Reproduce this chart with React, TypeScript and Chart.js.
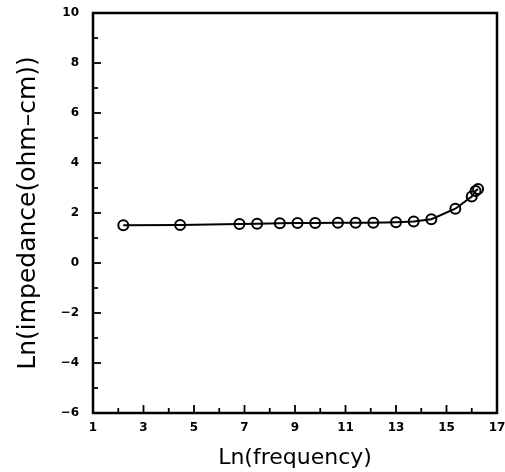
import React, { useEffect, useRef } from "react";
import { Chart, registerables } from "chart.js";

Chart.register(...registerables);

const lnFrequency = [2.2, 4.45, 6.8, 7.5, 8.4, 9.1, 9.8, 10.7, 11.4, 12.1, 13.0, 13.7, 14.4, 15.35, 16.0, 16.15, 16.25];
const lnImpedance = [1.51, 1.52, 1.56, 1.57, 1.59, 1.6, 1.6, 1.61, 1.61, 1.61, 1.63, 1.66, 1.75, 2.17, 2.66, 2.88, 2.96];
const xTickValues = [1, 3, 5, 7, 9, 11, 13, 15, 17];
const yTickValues = [-6, -4, -2, 0, 2, 4, 6, 8, 10];

const frameAndTicks = {
  id: "frameAndTicks",
  afterDraw(chart: any) {
    const { ctx, chartArea } = chart;
    const xs = chart.scales.x;
    const ys = chart.scales.y;
    ctx.save();
    ctx.strokeStyle = "#000";
    ctx.lineWidth = 1.8;
    for (let v = -6; v <= 10; v++) {
      const y = ys.getPixelForValue(v);
      const len = v % 2 === 0 ? 8 : 5;
      ctx.beginPath();
      ctx.moveTo(chartArea.left, y);
      ctx.lineTo(chartArea.left + len, y);
      ctx.stroke();
    }
    for (let v = 1; v <= 17; v++) {
      const x = xs.getPixelForValue(v);
      const len = v % 2 === 1 ? 8 : 5;
      ctx.beginPath();
      ctx.moveTo(x, chartArea.bottom);
      ctx.lineTo(x, chartArea.bottom - len);
      ctx.stroke();
    }
    ctx.lineWidth = 2.5;
    ctx.strokeRect(chartArea.left, chartArea.top, chartArea.right - chartArea.left, chartArea.bottom - chartArea.top);
    ctx.restore();
  },
};

const tickFont = { family: "'DejaVu Sans', sans-serif", size: 12, weight: "bold" as const };
const fmt = (v: any) => String(v).replace("-", "\u2212");

export default function App() {
  const ref = useRef<HTMLCanvasElement | null>(null);
  useEffect(() => {
    const canvas = ref.current!;
    const chart = new Chart(canvas, {
      type: "line",
      data: {
        datasets: [
          {
            data: lnFrequency.map((x, i) => ({ x, y: lnImpedance[i] })),
            borderColor: "#000",
            borderWidth: 2,
            pointRadius: 5,
            pointBorderWidth: 2,
            pointBorderColor: "#000",
            pointBackgroundColor: "rgba(0,0,0,0)",
            tension: 0,
          },
        ],
      },
      options: {
        animation: false,
        responsive: false,
        maintainAspectRatio: false,
        layout: { padding: { top: 13, right: 8, bottom: 0, left: 0 } },
        plugins: { legend: { display: false }, tooltip: { enabled: false } },
        scales: {
          x: {
            type: "linear",
            min: 1,
            max: 17,
            afterBuildTicks: (s: any) => {
              s.ticks = xTickValues.map((value) => ({ value }));
            },
            afterFit: (s: any) => {
              s.height = 59;
              s.paddingLeft = 0;
              s.paddingRight = 0;
            },
            grid: { display: false, drawTicks: false },
            border: { display: false },
            ticks: {
              padding: 8,
              color: "#000",
              font: tickFont,
              maxRotation: 0,
              autoSkip: false,
              callback: fmt,
            },
            title: {
              display: true,
              text: "Ln(frequency)",
              color: "#000",
              font: { family: "'DejaVu Sans', sans-serif", size: 22 },
              padding: { top: 0, bottom: 1 },
            },
          },
          y: {
            type: "linear",
            min: -6,
            max: 10,
            afterBuildTicks: (s: any) => {
              s.ticks = yTickValues.map((value) => ({ value }));
            },
            afterFit: (s: any) => {
              s.width = 93;
              s.paddingTop = 0;
              s.paddingBottom = 0;
            },
            grid: { display: false, drawTicks: false },
            border: { display: false },
            ticks: {
              padding: 14,
              color: "#000",
              font: tickFont,
              autoSkip: false,
              callback: fmt,
            },
            title: {
              display: true,
              text: "Ln(impedance(ohm\u2013cm))",
              color: "#000",
              font: { family: "'DejaVu Sans', sans-serif", size: 25 },
              padding: { top: 13, bottom: 0 },
            },
          },
        },
      },
      plugins: [frameAndTicks],
    });
    return () => chart.destroy();
  }, []);
  return (
    <div style={{ position: "fixed", left: 0, top: 0, width: 505, height: 472, background: "#fff" }}>
      <canvas ref={ref} width={505} height={472} style={{ display: "block", width: 505, height: 472 }} />
    </div>
  );
}
